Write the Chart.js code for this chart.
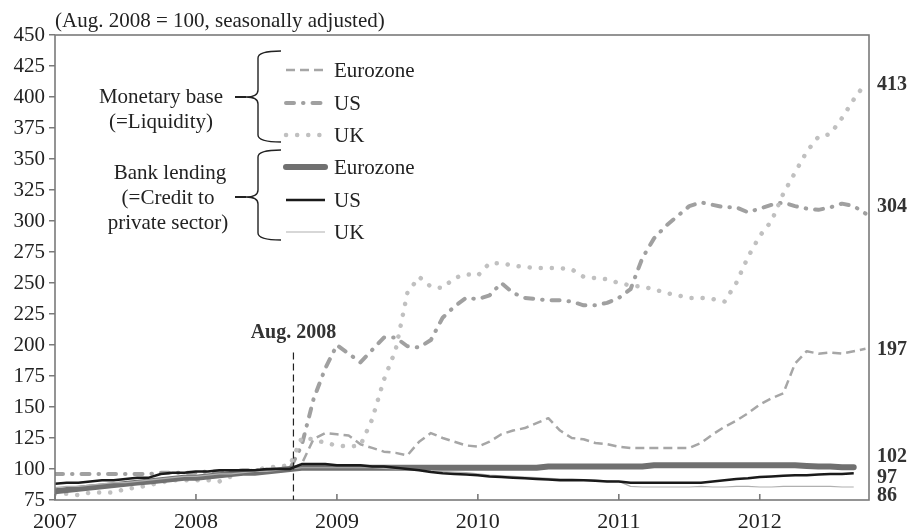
<!DOCTYPE html>
<html><head><meta charset="utf-8">
<script src="https://cdn.jsdelivr.net/npm/chart.js@4.4.1/dist/chart.umd.min.js"></script>
<style>html,body{margin:0;padding:0;background:#fff}#wrap{width:909px;height:532px}</style>
</head><body><div id="wrap"><canvas id="c" width="909" height="532"></canvas></div>
<script>
// Month index 0 = start of 2007 on the axis; one step = one month
const yearLabels = ['2007','2008','2009','2010','2011','2012'];
const titleText = '(Aug. 2008 = 100, seasonally adjusted)';
const markerMonth = 20.3;
const markerLabel = 'Aug. 2008';

// Monetary base (=Liquidity)
const ezMonetaryBase = [83,84,85,86,87,88,88,89,90,91,92,93,94,95,95,96,97,98,98,99,100,
  104,124,129,128,127,120,117,114,113,111,122,129,125,122,119,118,122,128,131,133,
  137,141,131,125,124,121,120,118,117,117,117,117,117,117,121,128,134,139,145,152,
  157,161,185,195,193,194,193,195,197];
const usMonetaryBase = [96,96,96,96,96,96,96,96,96,97,97,97,97,98,98,98,99,99,99,100,100,
  119,156,181,200,193,186,196,206,206,199,198,204,222,231,238,237,240,250,242,238,
  237,236,236,235,232,232,234,238,245,270,286,296,304,312,315,313,311,311,307,310,
  313,315,312,310,309,311,314,312,306];
const ukMonetaryBase = [80,80,79,81,81,81,84,85,87,89,91,91,91,91,90,94,97,99,101,102,103,
  125,124,121,119,118,119,140,172,196,242,255,247,246,254,257,256,266,266,264,263,
  262,262,262,261,255,254,253,250,248,247,245,242,240,238,238,237,235,250,271,288,
  300,322,339,356,368,370,383,398,411];

// Bank lending (=Credit to private sector)
const ezBankLending = [82,83,84,85,86,87,88,89,90,91,92,93,93,94,95,96,97,97,98,99,100,
  101,101,101,101,101,101,101,101,101,101,101,101,101,101,101,101,101,101,101,101,101,
  102,102,102,102,102,102,102,102,102,
  103,103,103,103,103,103,103,103,103,103,103,103,103,
  102.5,102,102,101.5,101.5];
const usBankLending = [88,89,89,90,91,91,92,93,93,96,97,97,98,98,99,99,99,99,100,100,100,
  104,104,104,103,103,103,102,102,101,100,99,97.5,96.5,96,95.5,95,94,93.5,93,92.5,
  92,91.5,91,91,91,90.5,90,90,89,89,89,89,89,89,89,90,91,92,92.5,93.5,
  94,94.5,95,95,95.5,96,96,96.5];
const ukBankLending = [85,86,86,87,88,89,89,90,91,92,93,94,94,95,96,96,97,98,98,99,100,
  101,101,101,101,101,101,101,100.5,100,99.5,99,98.5,98,97.5,97,96,95,94.5,94,93.5,
  93,92.5,92,92,91.5,91,90.5,90,
  86,85.5,85.5,85.5,85.5,85.5,86,85.5,85.5,86,86,85.5,85.5,86,86,86,86,86,85.5,85.5];

const groupNames = [['Monetary base','(=Liquidity)'],['Bank lending','(=Credit to','private sector)']];
const seriesNames = ['Eurozone','US','UK','Eurozone','US','UK'];
const endLabels = ['413','304','197','102','97','86'];
const endLabelValues = [413,304,197,102,97,86];

const FONT = "'Liberation Serif', 'Times New Roman', serif";
const toPts = arr => arr.map((v, i) => ({x: i, y: v}));

const styles = [
  {borderColor:'#a6a6a6', borderWidth:2.5, borderDash:[9,5], borderCapStyle:'butt', order:6},
  {borderColor:'#a0a0a0', borderWidth:4, borderDash:[8,9,0.5,9], borderCapStyle:'round', order:5},
  {borderColor:'#c0c0c0', borderWidth:4.5, borderDash:[0.1,11], borderCapStyle:'round', order:4},
  {borderColor:'#707070', borderWidth:6, borderDash:[], borderCapStyle:'round', order:3},
  {borderColor:'#1a1a1a', borderWidth:2.5, borderDash:[], borderCapStyle:'butt', order:1},
  {borderColor:'#b0b0b0', borderWidth:1.2, borderDash:[], borderCapStyle:'butt', order:2}
];
const seriesData = [ezMonetaryBase, usMonetaryBase, ukMonetaryBase, ezBankLending, usBankLending, ukBankLending];

const datasets = seriesData.map((arr, k) => Object.assign({
  label: seriesNames[k], data: toPts(arr), pointRadius: 0, fill: false, tension: 0,
  borderJoinStyle: 'round'
}, styles[k]));

const decor = {
  id: 'decor',
  afterDraw(chart) {
    const ctx = chart.ctx, a = chart.chartArea;
    const xs = chart.scales.x, ys = chart.scales.y;
    ctx.save();
    // frame
    ctx.strokeStyle = '#7a7a7a'; ctx.lineWidth = 1.6; ctx.setLineDash([]);
    ctx.strokeRect(a.left, a.top, a.right - a.left, a.bottom - a.top);
    // inward x ticks
    ctx.beginPath();
    xs.ticks.forEach(t => { const px = xs.getPixelForValue(t.value); ctx.moveTo(px, a.bottom); ctx.lineTo(px, a.bottom - 6); });
    ctx.stroke();
    // title
    ctx.fillStyle = '#222'; ctx.font = '21px ' + FONT; ctx.textAlign = 'left'; ctx.textBaseline = 'alphabetic';
    ctx.fillText(titleText, a.left, 27);
    // marker
    const mx = xs.getPixelForValue(markerMonth);
    ctx.strokeStyle = '#222'; ctx.lineWidth = 1.2; ctx.setLineDash([7,4]);
    ctx.beginPath(); ctx.moveTo(mx, ys.getPixelForValue(194)); ctx.lineTo(mx, a.bottom); ctx.stroke();
    ctx.setLineDash([]);
    ctx.font = 'bold 20px ' + FONT; ctx.fillStyle = '#333'; ctx.textAlign = 'center'; ctx.textBaseline = 'middle';
    ctx.fillText(markerLabel, mx, ys.getPixelForValue(210));
    // end labels
    const nudges = [4, -9, 1, -9.5, 5, 9];
    ctx.textAlign = 'left';
    endLabels.forEach((t, i) => ctx.fillText(t, a.right + 8, ys.getPixelForValue(endLabelValues[i]) + nudges[i]));
    // legend
    const rows = [70,103,135,167,200,232];
    ctx.font = '21px ' + FONT; ctx.fillStyle = '#222';
    datasets.forEach((d, i) => {
      ctx.save();
      ctx.strokeStyle = d.borderColor; ctx.lineWidth = d.borderWidth; ctx.setLineDash(d.borderDash); ctx.lineCap = d.borderCapStyle;
      ctx.beginPath(); ctx.moveTo(286, rows[i]); ctx.lineTo(325, rows[i]); ctx.stroke();
      ctx.restore();
      ctx.textAlign = 'left'; ctx.textBaseline = 'middle';
      ctx.fillText(seriesNames[i], 334, rows[i] + 1);
    });
    // braces
    const brace = (yTop, yMid, yBot) => {
      const xs0 = 258, xTip = 246, xEnd = 281, r = 7;
      ctx.strokeStyle = '#222'; ctx.lineWidth = 1.4;
      ctx.beginPath();
      ctx.moveTo(xEnd, yTop);
      ctx.quadraticCurveTo(xs0, yTop, xs0, yTop + r);
      ctx.lineTo(xs0, yMid - r);
      ctx.quadraticCurveTo(xs0, yMid, xTip, yMid);
      ctx.quadraticCurveTo(xs0, yMid, xs0, yMid + r);
      ctx.lineTo(xs0, yBot - r);
      ctx.quadraticCurveTo(xs0, yBot, xEnd, yBot);
      ctx.stroke();
      ctx.lineWidth = 2; ctx.beginPath(); ctx.moveTo(235, yMid); ctx.lineTo(xTip, yMid); ctx.stroke();
    };
    brace(51, 97, 142);
    brace(150, 197, 240);
    ctx.textAlign = 'center'; ctx.textBaseline = 'middle';
    ctx.fillText(groupNames[0][0], 161, 97);
    ctx.fillText(groupNames[0][1], 161, 122);
    ctx.fillText(groupNames[1][0], 170, 173);
    ctx.fillText(groupNames[1][1], 168, 198);
    ctx.fillText(groupNames[1][2], 168, 223);
    ctx.restore();
  }
};

new Chart(document.getElementById('c'), {
  type: 'line',
  data: { datasets },
  options: {
    responsive: false, animation: false, devicePixelRatio: 1,
    layout: { padding: { top: 35, right: 40, left: 0, bottom: 0 } },
    plugins: { legend: { display: false }, tooltip: { enabled: false } },
    scales: {
      x: {
        type: 'linear', min: 0, max: 69.3,
        afterBuildTicks: s => { s.ticks = yearLabels.map((_, i) => ({ value: i * 12 })); },
        afterFit: s => { s.height = 32; },
        ticks: { callback: v => yearLabels[Math.round(v / 12)], font: { family: FONT, size: 22 }, color: '#222', padding: 1, maxRotation: 0, autoSkip: false },
        grid: { display: false }, border: { display: false }
      },
      y: {
        min: 75, max: 450,
        afterFit: s => { s.width = 55; },
        ticks: { stepSize: 25, font: { family: FONT, size: 21 }, color: '#222', padding: 4 },
        grid: { drawOnChartArea: false, drawTicks: true, tickLength: 6, color: '#7a7a7a', lineWidth: 1.5 },
        border: { display: false }
      }
    }
  },
  plugins: [decor]
});
</script></body></html>
